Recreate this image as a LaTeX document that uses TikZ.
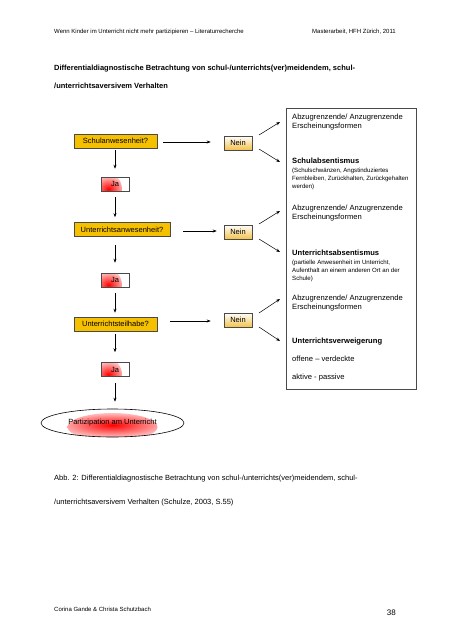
\documentclass[tikz,border=0pt]{standalone}
\usepackage{fontspec}
\setmainfont{Liberation Sans}
\usetikzlibrary{arrows.meta,shapes.geometric}
\definecolor{gold}{HTML}{F5C000}
\definecolor{goldlight}{HTML}{F3C24A}
\definecolor{boxline}{HTML}{4A4A4A}
\tikzset{
  x=1pt,y=-1pt,
  question/.style={draw=boxline,fill=gold,line width=0.6pt,minimum height=14pt,inner sep=0pt,font=\fontsize{7.5}{8}\selectfont},
  neinbox/.style={draw=boxline,line width=0.6pt,top color=white,bottom color=goldlight,minimum width=28pt,minimum height=14pt,inner sep=0pt,font=\fontsize{7.5}{8}\selectfont},
  jabox/.style={draw=boxline,line width=0.6pt,fill=white,minimum width=28pt,minimum height=14pt,inner sep=0pt,font=\fontsize{7.5}{8}\selectfont,
    path picture={\shade[inner color=red,outer color=white] ([xshift=4pt,yshift=2pt]path picture bounding box.south west) circle (17pt);}},
  arr/.style={-{Stealth[length=4pt,width=3pt]},line width=0.5pt},
  plain/.style={anchor=base west,inner sep=0pt},
  boxtext/.style={plain,font=\fontsize{7.6}{8}\selectfont},
  smalltext/.style={plain,font=\fontsize{6.1}{6}\selectfont},
}
\begin{document}
\begin{tikzpicture}
\useasboundingbox (0,0) rectangle (452,640);
\fill[white] (0,0) rectangle (452,640);
% header
\node[plain,font=\fontsize{6}{7}\selectfont] (hl) at (54,33) {Wenn Kinder im Unterricht nicht mehr partizipieren – Literaturrecherche};
\node[anchor=base east,inner sep=0pt,font=\fontsize{6}{7}\selectfont] (hr) at (396,33) {Masterarbeit, HFH Zürich, 2011};
% title
\node[plain,font=\fontsize{7.5}{9}\bfseries] (t1) at (54,70) {Differentialdiagnostische Betrachtung von schul-/unterrichts(ver)meidendem, schul-};
\node[plain,font=\fontsize{7.5}{9}\bfseries] (t2) at (54,88) {/unterrichtsaversivem Verhalten};
% big box
\node[draw=boxline,line width=0.7pt,minimum width=130pt,minimum height=281pt,inner sep=0pt] (big) at (351,248.5) {};
\node[boxtext] (b1) at (292,119) {Abzugrenzende/ Anzugrenzende};
\node[boxtext] (b2) at (292,128.5) {Erscheinungsformen};
\node[boxtext,font=\fontsize{7.6}{8}\bfseries] (b3) at (292,163.5) {Schulabsentismus};
\node[smalltext] (b4) at (292,172) {(Schulschwänzen, Angstinduziertes};
\node[smalltext] (b5) at (292,180) {Fernbleiben, Zurückhalten, Zurückgehalten};
\node[smalltext] (b6) at (292,188) {werden)};
\node[boxtext] (b7) at (292,210) {Abzugrenzende/ Anzugrenzende};
\node[boxtext] (b8) at (292,219.5) {Erscheinungsformen};
\node[boxtext,font=\fontsize{7.6}{8}\bfseries] (b9) at (292,255.5) {Unterrichtsabsentismus};
\node[smalltext] (b10) at (292,264) {(partielle Anwesenheit im Unterricht,};
\node[smalltext] (b11) at (292,272) {Aufenthalt an einem anderen Ort an der};
\node[smalltext] (b12) at (292,280) {Schule)};
\node[boxtext] (b13) at (292,300) {Abzugrenzende/ Anzugrenzende};
\node[boxtext] (b14) at (292,309.5) {Erscheinungsformen};
\node[boxtext,font=\fontsize{7.6}{8}\bfseries] (b15) at (292,343.5) {Unterrichtsverweigerung};
\node[boxtext] (b16) at (292,361.5) {offene – verdeckte};
\node[boxtext] (b17) at (292,379.5) {aktive - passive};
% left column
\node[question,minimum width=83pt] (q1) at (115.5,141) {Schulanwesenheit?};
\node[question,minimum width=96pt] (q2) at (122,229.5) {Unterrichtsanwesenheit?};
\node[question,minimum width=83pt] (q3) at (115.5,324) {Unterrichtsteilhabe?};
\node[jabox] (j1) at (115,184) {Ja};
\node[jabox] (j2) at (115,280) {Ja};
\node[jabox] (j3) at (115,369.5) {Ja};
\node[neinbox] (n1) at (238,143) {Nein};
\node[neinbox] (n2) at (238,232) {Nein};
\node[neinbox] (n3) at (238,320) {Nein};
\node[ellipse,draw=black,line width=0.6pt,minimum width=143pt,minimum height=28pt,inner sep=0pt,font=\fontsize{7.5}{8}\selectfont,
  path picture={\shade[inner color=red,outer color=white] ([yshift=-4pt]path picture bounding box.center) ellipse (45pt and 14pt);}] (p) at (112.5,423) {Partizipation am Unterricht};
% target coordinates
\coordinate (a1u) at (280,122); \coordinate (a1d) at (280,162);
\coordinate (a2u) at (280,211); \coordinate (a2d) at (280,252);
\coordinate (a3u) at (280,299); \coordinate (a3d) at (280,341);
\coordinate (s1u) at (259,135); \coordinate (s1d) at (259,149);
\coordinate (s2u) at (259,224); \coordinate (s2d) at (259,239);
\coordinate (s3u) at (259,313); \coordinate (s3d) at (259,327);
% vertical arrows
\draw[arr,shorten <=2pt,shorten >=8pt] (q1.south -| j1.north) -- (j1.north);
\draw[arr,shorten <=6pt,shorten >=5pt] (j1.south) -- (j1.south |- q2.north);
\draw[arr,shorten <=8pt,shorten >=10pt] (q2.south -| j2.north) -- (j2.north);
\draw[arr,shorten <=6pt,shorten >=4pt] (j2.south) -- (j2.south |- q3.north);
\draw[arr,shorten <=3pt,shorten >=10pt] (q3.south -| j3.north) -- (j3.north);
\draw[arr,shorten <=6pt,shorten >=7pt] (j3.south) -- (j3.south |- p.north);
% horizontal arrows
\draw[arr,shorten <=6pt,shorten >=13pt] (q1.east |- 0,142) -- (n1.west |- 0,142);
\draw[arr,shorten <=13pt,shorten >=7pt] (q2.east |- 0,231) -- (n2.west |- 0,231);
\draw[arr,shorten <=13pt,shorten >=13pt] (q3.east |- 0,321) -- (n3.west |- 0,321);
% diagonal arrows
\draw[arr] (s1u) -- (a1u);
\draw[arr] (s1d) -- (a1d);
\draw[arr] (s2u) -- (a2u);
\draw[arr] (s2d) -- (a2d);
\draw[arr] (s3u) -- (a3u);
\draw[arr] (s3d) -- (a3d);
% caption
\node[plain,font=\fontsize{7.5}{8}\selectfont] (c1) at (54,480) {Abb. 2: Differentialdiagnostische Betrachtung von schul-/unterrichts(ver)meidendem, schul-};
\node[plain,font=\fontsize{7.5}{8}\selectfont] (c2) at (54,504) {/unterrichtsaversivem Verhalten (Schulze, 2003, S.55)};
% footer
\node[plain,font=\fontsize{6}{7}\selectfont] (f1) at (54,611) {Corina Gande \& Christa Schutzbach};
\node[anchor=base east,inner sep=0pt,font=\fontsize{8}{9}\selectfont] (f2) at (396,615) {38};
\end{tikzpicture}
\end{document}
